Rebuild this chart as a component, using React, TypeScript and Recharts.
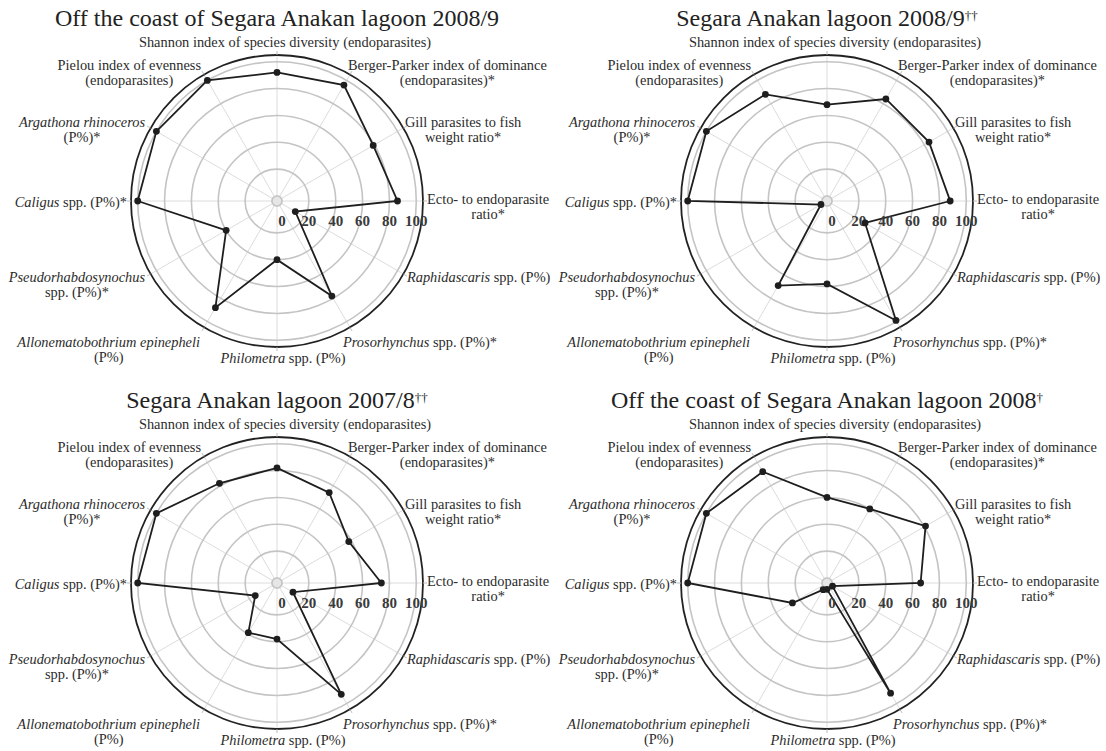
import React from 'react';
import { RadarChart, Radar, PolarGrid, PolarAngleAxis, PolarRadiusAxis } from 'recharts';

// ---- data ----
const axisKeys = [
  'Shannon', 'BergerParker', 'Gill', 'Ecto', 'Raphidascaris', 'Prosorhynchus',
  'Philometra', 'Allonematobothrium', 'Pseudorhabdosynochus', 'Caligus', 'Argathona', 'Pielou',
];

const offCoast20089 = [92, 96, 79, 86, 12, 78, 40, 88, 40, 100, 100, 100];
const lagoon20089 = [68, 84, 84, 88, 29, 99, 58, 69, 1.5, 100, 100, 88];
const lagoon20078 = [82, 74, 58, 74, 10, 92, 38, 39, 15, 100, 100, 82];
const offCoast2008 = [60, 60, 81, 66, 1, 91, 1, 2, 26, 100, 100, 92];

const radialTicks = [0, 20, 40, 60, 80, 100];

const panelTitles = [
  { main: 'Off the coast of Segara Anakan lagoon 2008/9', sup: '' },
  { main: 'Segara Anakan lagoon 2008/9', sup: '††' },
  { main: 'Segara Anakan lagoon 2007/8', sup: '††' },
  { main: 'Off the coast of Segara Anakan lagoon 2008', sup: '†' },
];

// label lines: each line is list of [text, italic]
type Seg = [string, boolean];
const axisLabels: Seg[][][] = [
  [[['Shannon index of species diversity (endoparasites)', false]]],
  [[['Berger-Parker index of dominance', false]], [['(endoparasites)*', false]]],
  [[['Gill parasites to fish', false]], [['weight ratio*', false]]],
  [[['Ecto- to endoparasite', false]], [['ratio*', false]]],
  [[['Raphidascaris', true], [' spp. (P%)', false]]],
  [[['Prosorhynchus', true], [' spp. (P%)*', false]]],
  [[['Philometra', true], [' spp. (P%)', false]]],
  [[['Allonematobothrium epinepheli', true]], [['(P%)', false]]],
  [[['Pseudorhabdosynochus', true]], [['spp. (P%)*', false]]],
  [[['Caligus', true], [' spp. (P%)*', false]]],
  [[['Argathona rhinoceros', true]], [['(P%)*', false]]],
  [[['Pielou index of evenness', false]], [['(endoparasites)', false]]],
];

// ---- style ----
const FONT = '"Liberation Serif", "Times New Roman", serif';
const LABEL_SIZE = 14.4;
const LINE_H = 15;
const W = 556;
const H = 382;
const CX = 277;
const CY = 201;
const OUTER = 146;
const INNER = 5;
const TEXT = '#2c2c2c';

// per-label placement tweaks: dx shift, first line vertical offset
const labelPlace = [
  { dx: 8, dy: -9.3 },
  { dx: -4, dy: -6 },
  { dx: -2, dy: -4.5 },
  { dx: 0, dy: -2 },
  { dx: 0, dy: 1 },
  { dx: -9, dy: 10.7 },
  { dx: 6, dy: 7 },
  { dx: -2, dy: 10.7 },
  { dx: -2, dy: 0.7 },
  { dx: 0, dy: 0.7 },
  { dx: -2, dy: -4.5 },
  { dx: -1, dy: -6 },
];

let ctx: CanvasRenderingContext2D | null = null;
function measureLine(line: Seg[]): number {
  if (!ctx) ctx = document.createElement('canvas').getContext('2d');
  let w = 0;
  for (const [t, it] of line) {
    if (ctx) {
      ctx.font = `${it ? 'italic ' : ''}${LABEL_SIZE}px "Liberation Serif"`;
      w += ctx.measureText(t).width;
    } else {
      w += t.length * LABEL_SIZE * 0.45;
    }
  }
  return w;
}

const AngleTick = (props: any) => {
  const { x, y, payload, index } = props;
  const lines = axisLabels[index];
  const place = labelPlace[index];
  const ang = (payload.coordinate * Math.PI) / 180;
  const ux = Math.cos(ang);
  const widths = lines.map(measureLine);
  const bw = Math.max(...widths);
  let bcx = x + place.dx;
  if (ux > 0.2) bcx = x + place.dx + bw / 2;
  else if (ux < -0.2) bcx = x + place.dx - bw / 2;
  const y0 = y + place.dy;
  return (
    <g>
      {lines.map((line, li) => (
        <text
          key={li}
          x={bcx}
          y={y0 + li * LINE_H}
          textAnchor="middle"
          dominantBaseline="central"
          style={{ fontFamily: FONT, fontSize: LABEL_SIZE, fill: TEXT }}
        >
          {line.map(([t, it], si) => (
            <tspan key={si} style={{ fontStyle: it ? 'italic' : 'normal' }}>{t}</tspan>
          ))}
        </text>
      ))}
    </g>
  );
};

const RadiusTick = (props: any) => {
  const { x, y, payload } = props;
  return (
    <text
      x={x}
      y={y + 20}
      textAnchor="middle"
      dominantBaseline="central"
      style={{ fontFamily: FONT, fontSize: 15, fontWeight: 'bold', fill: '#3a3a3a' }}
    >
      {payload.value}
    </text>
  );
};

const renderDot = (p: any) => (
  <circle key={`dot-${p.index}`} cx={p.cx} cy={p.cy} r={3.4} fill="#1e1e1e" stroke="none" />
);

function Panel({ values, title, left, top }: { values: number[]; title: { main: string; sup: string }; left: number; top: number }) {
  const data = axisKeys.map((k, i) => ({ axis: k, value: values[i] }));
  return (
    <div style={{ position: 'absolute', left, top, width: W, height: H }}>
      <div
        style={{
          position: 'absolute',
          left: 0,
          top: 4,
          width: CX * 2,
          textAlign: 'center',
          fontFamily: FONT,
          fontSize: 24,
          lineHeight: '28px',
          color: '#222',
          whiteSpace: 'nowrap',
        }}
      >
        {title.main}
        {title.sup ? (
          <span style={{ fontSize: 13, verticalAlign: 'top', position: 'relative', top: -2 }}>{title.sup}</span>
        ) : null}
      </div>
      {/* light hub at the centre of the polar area */}
      <div
        style={{
          position: 'absolute',
          left: CX - INNER - 1,
          top: CY - INNER - 1,
          width: (INNER + 1) * 2,
          height: (INNER + 1) * 2,
          borderRadius: '50%',
          background: '#e6e6e6',
        }}
      />
      <div style={{ position: 'absolute', left: 0, top: 0 }}>
        <RadarChart
          width={W}
          height={H}
          data={data}
          cx={CX}
          cy={CY}
          outerRadius={OUTER}
          innerRadius={INNER}
          margin={{ top: 0, right: 0, bottom: 0, left: 0 }}
        >
          <PolarGrid gridType="circle" polarRadius={[]} stroke="#dcdcdc" strokeWidth={1} />
          <PolarGrid gridType="circle" radialLines={false} stroke="#c4c4c4" strokeWidth={1.6} />
          <PolarAngleAxis
            dataKey="axis"
            tick={AngleTick}
            tickSize={4}
            tickLine={{ stroke: '#bbbbbb' }}
            axisLine={{ stroke: '#222', strokeWidth: 1.8 }}
            axisLineType="circle"
            stroke="#222"
          />
          <PolarRadiusAxis
            angle={0}
            domain={[0, 105]}
            ticks={radialTicks}
            tick={RadiusTick}
            axisLine={false}
            tickLine={false}
          />
          <Radar
            dataKey="value"
            stroke="#1e1e1e"
            strokeWidth={1.8}
            fill="none"
            fillOpacity={0}
            dot={renderDot}
            isAnimationActive={false}
          />
        </RadarChart>
      </div>
    </div>
  );
}

export default function App() {
  return (
    <div style={{ position: 'absolute', left: 0, top: 0, width: 1106, height: 751, background: '#fff', overflow: 'hidden' }}>
      <Panel values={offCoast20089} title={panelTitles[0]} left={0} top={0} />
      <Panel values={lagoon20089} title={panelTitles[1]} left={550} top={0} />
      <Panel values={lagoon20078} title={panelTitles[2]} left={0} top={382} />
      <Panel values={offCoast2008} title={panelTitles[3]} left={550} top={382} />
    </div>
  );
}
